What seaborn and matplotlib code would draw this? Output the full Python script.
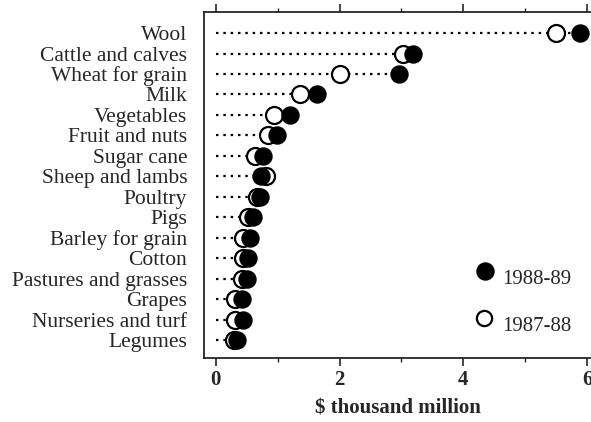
import numpy as np
import pandas as pd
import matplotlib
matplotlib.use("Agg")
import matplotlib.pyplot as plt
from matplotlib.ticker import MultipleLocator
import seaborn as sns

# Gross value of Australian rural commodities, $ thousand million
commodities = ["Wool", "Cattle and calves", "Wheat for grain", "Milk", "Vegetables",
               "Fruit and nuts", "Sugar cane", "Sheep and lambs", "Poultry", "Pigs",
               "Barley for grain", "Cotton", "Pastures and grasses", "Grapes",
               "Nurseries and turf", "Legumes"]
value_8889 = [5.89, 3.19, 2.96, 1.63, 1.20, 0.99, 0.76, 0.74, 0.71, 0.60,
              0.55, 0.53, 0.50, 0.42, 0.44, 0.34]
value_8788 = [5.49, 3.02, 2.00, 1.36, 0.94, 0.85, 0.64, 0.82, 0.66, 0.52,
              0.44, 0.44, 0.42, 0.32, 0.32, 0.30]
years = ["1988-89", "1987-88"]

df = pd.DataFrame({
    "commodity": commodities * 2,
    "value": value_8889 + value_8788,
    "year": [years[0]] * len(commodities) + [years[1]] * len(commodities),
})

sns.set_style("ticks")
plt.rcParams["font.family"] = ["Liberation Serif", "DejaVu Serif"]

fig = plt.figure(figsize=(5.91, 4.22), dpi=100)
ax = fig.add_axes([0.345, 0.1517, 0.655, 0.8199])

ypos = np.arange(len(commodities))
maxvals = np.maximum(value_8889, value_8788)
ax.hlines(ypos, 0, maxvals, colors="black", linestyles=(0, (1.1, 2.2)), linewidth=1.6, zorder=1)

sns.scatterplot(data=df[df.year == "1987-88"], x="value", y="commodity", ax=ax,
                marker="o", s=150, facecolor="white", edgecolor="black",
                linewidth=1.6, zorder=2, legend=False)
sns.scatterplot(data=df[df.year == "1988-89"], x="value", y="commodity", ax=ax,
                marker="o", s=150, color="black", edgecolor="black",
                linewidth=1.0, zorder=3, legend=False)

ax.set_xlim(-0.19, 6.06)
ax.set_ylim(15.88, -1.03)
ax.set_yticks(ypos)
ax.set_yticklabels(commodities, fontsize=15.5)
ax.tick_params(axis="y", length=0, pad=12)

ax.xaxis.set_major_locator(MultipleLocator(2))
ax.xaxis.set_minor_locator(MultipleLocator(1))
ax.tick_params(axis="x", which="major", length=6, width=1.2, labelsize=15, pad=3)
ax.tick_params(axis="x", which="minor", length=3, width=1.0)
ax.tick_params(axis="x", which="both", top=True, direction="out")
for lab in ax.get_xticklabels():
    lab.set_fontweight("bold")
ax.set_xlabel("$ thousand million", fontsize=15, fontweight="bold", labelpad=6)
ax.set_ylabel("")

for side in ["left", "top", "bottom"]:
    ax.spines[side].set_linewidth(1.3)
ax.spines["right"].set_visible(False)

# manual legend
ax.scatter([0.726], [0.251], transform=ax.transAxes, s=150, color="black",
           edgecolor="black", clip_on=False, zorder=4)
ax.text(0.77, 0.228, years[0], transform=ax.transAxes, fontsize=15, va="center")
ax.scatter([0.723], [0.116], transform=ax.transAxes, s=120, color="white",
           edgecolor="black", linewidth=1.6, clip_on=False, zorder=4)
ax.text(0.77, 0.09, years[1], transform=ax.transAxes, fontsize=15, va="center")

fig.savefig("out.png", dpi=100)
